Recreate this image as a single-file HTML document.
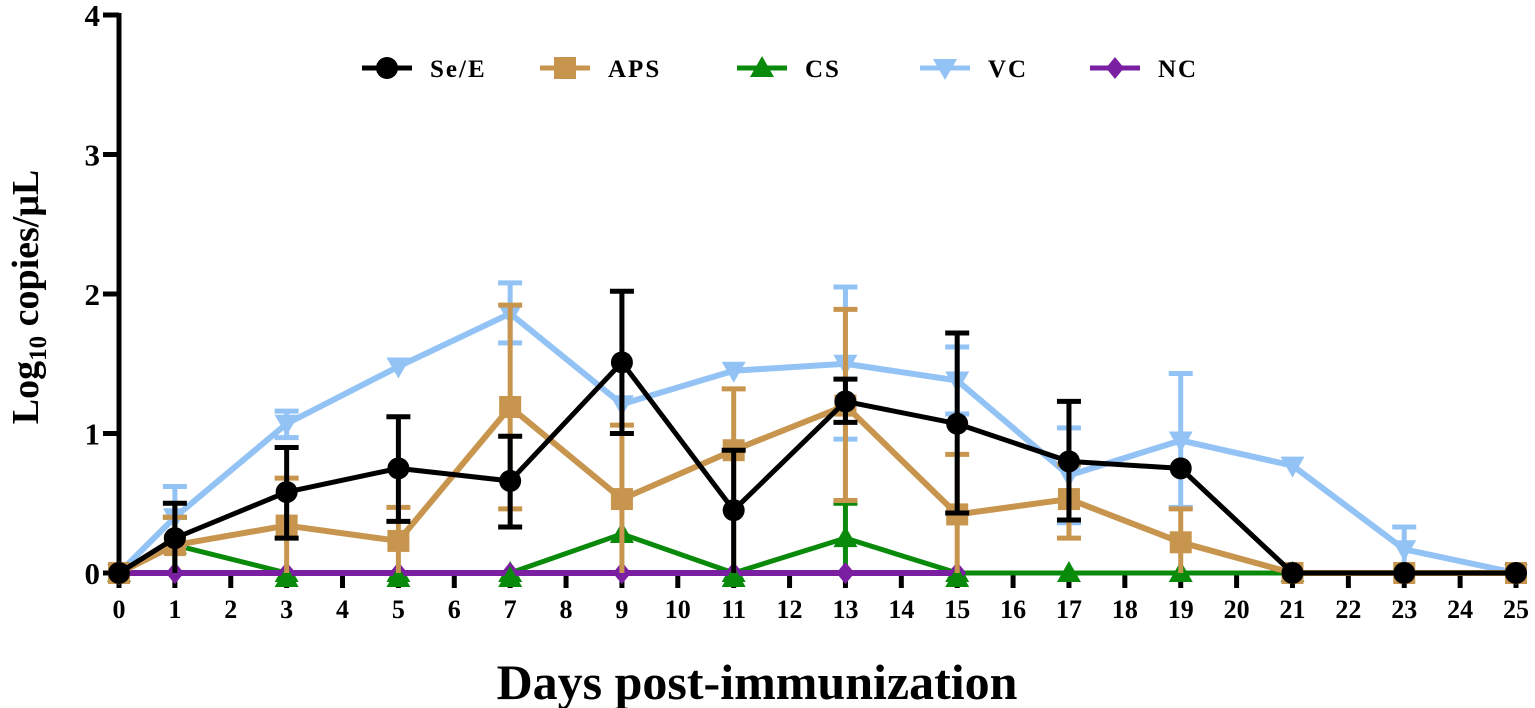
<!DOCTYPE html>
<html><head><meta charset="utf-8"><style>
html,body{margin:0;padding:0;background:#fff;}
svg{display:block;font-family:"Liberation Serif",serif;font-weight:bold;}
</style></head><body>
<svg id="s" width="1535" height="708" viewBox="0 0 1535 708" xmlns="http://www.w3.org/2000/svg"></svg>
<script>
const s=document.getElementById('s');
const X=d=>119+d*55.88, Y=v=>573-v*139.5;
let h='';
const SE=[[0,0],[1,.25,.5,0],[3,.58,.9,.25],[5,.75,1.12,.37],[7,.66,.98,.33],[9,1.51,2.02,1.0],[11,.45,.88,0],[13,1.23,1.39,1.08],[15,1.07,1.72,.43],[17,.8,1.23,.38],[19,.75],[21,0],[23,0],[25,0]];
const APS=[[0,0],[1,.2,.4,0],[3,.34,.68,0],[5,.23,.47,0],[7,1.19,1.92,.46],[9,.53,1.06,0],[11,.88,1.32,0],[13,1.2,1.89,.52],[15,.42,.85,0],[17,.53,.78,.25],[19,.22,.46,0],[21,0],[23,0],[25,0]];
const CS=[[0,0],[1,.2,.4,0],[3,0],[5,0],[7,0],[9,.28],[11,0],[13,.25,.5,0],[15,0],[17,0],[19,0],[21,0]];
const VC=[[0,0],[1,.4,.62,.2],[3,1.07,1.16,.97],[5,1.48],[7,1.86,2.08,1.65],[9,1.21],[11,1.45],[13,1.5,2.05,.96],[15,1.38,1.62,1.14],[17,.7,1.04,.36],[19,.95,1.43,.47],[21,.77],[23,.17,.33,0],[25,0]];
const NC=[[0,0],[1,0],[3,0],[5,0],[7,0],[9,0],[11,0],[13,0],[15,0]];
function marker(t,x,y,c){
 if(t=='c')return `<circle cx="${x}" cy="${y}" r="11" fill="${c}"/>`;
 if(t=='s')return `<rect x="${x-11}" y="${y-11}" width="22" height="22" fill="${c}"/>`;
 if(t=='t')return `<polygon points="${x},${y-12} ${x+12},${y+9} ${x-12},${y+9}" fill="${c}"/>`;
 if(t=='v')return `<polygon points="${x},${y+12} ${x+12},${y-9} ${x-12},${y-9}" fill="${c}"/>`;
 if(t=='d')return `<polygon points="${x},${y-11} ${x+9},${y} ${x},${y+11} ${x-9},${y}" fill="${c}"/>`;
}
function series(d,c,t,w){
 let o='';
 d.forEach(p=>{if(p.length>2){const x=X(p[0]);
  o+=`<line x1="${x}" x2="${x}" y1="${Y(p[2])}" y2="${Y(p[3])}" stroke="${c}" stroke-width="5"/>`;
  [p[2],p[3]].forEach(v=>{if(v>0)o+=`<line x1="${x-12}" x2="${x+12}" y1="${Y(v)}" y2="${Y(v)}" stroke="${c}" stroke-width="5"/>`;});}});
 o+=`<polyline fill="none" stroke="${c}" stroke-width="${w}" stroke-linejoin="round" points="${d.map(p=>X(p[0])+','+Y(p[1])).join(' ')}"/>`;
 d.forEach(p=>o+=marker(t,X(p[0]),Y(p[1]),c));
 return o;
}
h+=`<line x1="119" y1="13" x2="119" y2="575" stroke="#000" stroke-width="5"/>`;
h+=`<line x1="117" y1="573" x2="1518" y2="573" stroke="#000" stroke-width="5"/>`;
for(let i=0;i<=4;i++){h+=`<line x1="103" x2="119" y1="${Y(i)}" y2="${Y(i)}" stroke="#000" stroke-width="5"/>`;
 h+=`<text x="100" y="${Y(i)+11}" font-size="31" text-anchor="end">${i}</text>`;}
for(let d=0;d<=25;d++){h+=`<line x1="${X(d)}" x2="${X(d)}" y1="573" y2="588" stroke="#000" stroke-width="5"/>`;
 h+=`<text x="${X(d)}" y="618" font-size="26" text-anchor="middle">${d}</text>`;}
h+=`<text x="757" y="699" font-size="50" text-anchor="middle">Days post-immunization</text>`;
h+=`<text transform="translate(38,297) rotate(-90)" font-size="38" text-anchor="middle">Log<tspan font-size="25" dy="8">10</tspan><tspan dy="-8"> copies/μL</tspan></text>`;
h+=series(NC,'#7a1fa2','d',6);
h+=series(CS,'#0a8a0a','t',5);
h+=`<polyline fill="none" stroke="#7a1fa2" stroke-width="6" points="${X(0)},573 ${X(15)},573"/>`;
NC.forEach(p=>h+=marker('d',X(p[0]),573,'#7a1fa2'));
[3,5,7,11,15].forEach(d=>h+=marker('t',X(d),578,'#0a8a0a'));
h+=series(VC,'#93c3f5','v',6);
h+=series(APS,'#c8954e','s',6);
h+=series(SE,'#000','c',5);
const L=[['Se/E','#000','c',362],['APS','#c8954e','s',540],['CS','#0a8a0a','t',737],['VC','#93c3f5','v',920],['NC','#7a1fa2','d',1090]];
L.forEach(l=>{h+=`<line x1="${l[3]}" x2="${l[3]+50}" y1="68" y2="68" stroke="${l[1]}" stroke-width="5"/>`+marker(l[2],l[3]+25,68,l[1])+
 `<text x="${l[3]+68}" y="77" font-size="25" letter-spacing="2">${l[0]}</text>`;});
s.innerHTML=h;
</script>
</body></html>
